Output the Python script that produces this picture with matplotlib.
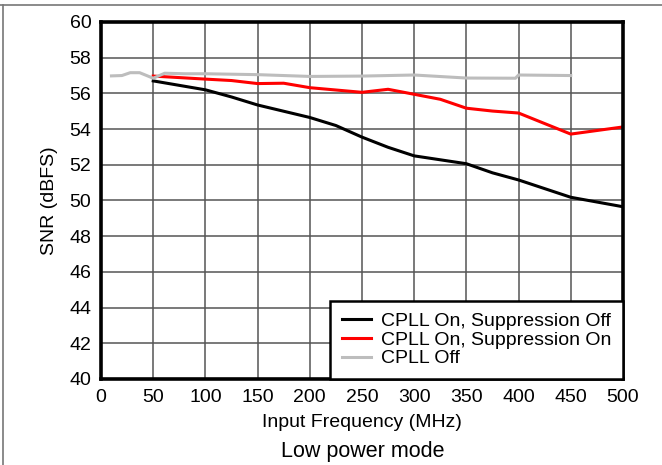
import matplotlib.pyplot as plt
from matplotlib.lines import Line2D

plt.rcParams['font.family'] = ['Liberation Sans', 'DejaVu Sans']

# values
black_f = [50, 100, 125, 150, 175, 200, 225, 250, 275, 300, 350, 375, 400, 450, 500]
black_snr = [56.7, 56.2, 55.8, 55.35, 55.0, 54.65, 54.2, 53.55, 52.98, 52.5,
             52.06, 51.55, 51.15, 50.18, 49.65]

red_f = [50, 100, 125, 150, 175, 200, 250, 275, 300, 325, 350, 375, 400, 450, 500]
red_snr = [56.97, 56.8, 56.72, 56.55, 56.57, 56.32, 56.06, 56.23, 55.95, 55.67,
           55.17, 55.01, 54.9, 53.72, 54.12]

gray_f = [10, 20, 28, 37, 50, 61, 80, 100, 150, 200, 250, 300, 350, 397, 400, 450]
gray_snr = [56.98, 57.0, 57.16, 57.16, 56.85, 57.13, 57.1, 57.1, 57.05, 56.95,
            56.97, 57.03, 56.86, 56.85, 57.03, 57.0]

labels = ["CPLL On, Suppression Off", "CPLL On, Suppression On", "CPLL Off"]
x_ticks = list(range(0, 501, 50))
y_ticks = list(range(40, 61, 2))

fig = plt.figure(figsize=(6.62, 4.65), dpi=100)
ax = fig.add_axes([0.1526, 0.185, 0.7884, 0.7677])

ax.plot(black_f, black_snr, color="black", lw=2.2, label=labels[0])
ax.plot(red_f, red_snr, color="#ff0000", lw=2.2, label=labels[1])
ax.plot(gray_f, gray_snr, color="#bdbdbd", lw=2.2, label=labels[2])

ax.set_xlim(0, 500)
ax.set_ylim(40, 60)
ax.set_xticks(x_ticks)
ax.set_yticks(y_ticks)
ax.tick_params(length=0, labelsize=14)
ax.tick_params(axis="x", pad=7)
ax.tick_params(axis="y", pad=7)
ax.grid(True, color="#555555", lw=1.1)
ax.set_axisbelow(True)
for s in ax.spines.values():
    s.set_linewidth(2.6)

ax.set_xlabel("Input Frequency (MHz)", fontsize=14, labelpad=6)
ax.set_ylabel("SNR (dBFS)", fontsize=14, labelpad=8)

leg = ax.legend(loc="lower right", fontsize=14, borderaxespad=0, fancybox=False,
                framealpha=1, edgecolor="black", handlelength=1.5,
                handletextpad=0.5, labelspacing=0.05, borderpad=0.6)
leg.get_frame().set_linewidth(1.8)

fig.text(0.548, 0.03, "Low power mode", ha="center", va="center", fontsize=15.5)

# outer frame lines (top and left)
fig.add_artist(Line2D([0, 1], [0.990, 0.990], color="#777777", lw=1.2,
                      transform=fig.transFigure))
fig.add_artist(Line2D([0.005, 0.005], [0, 0.990], color="#777777", lw=1.2,
                      transform=fig.transFigure))

fig.savefig("out.png", dpi=100)
